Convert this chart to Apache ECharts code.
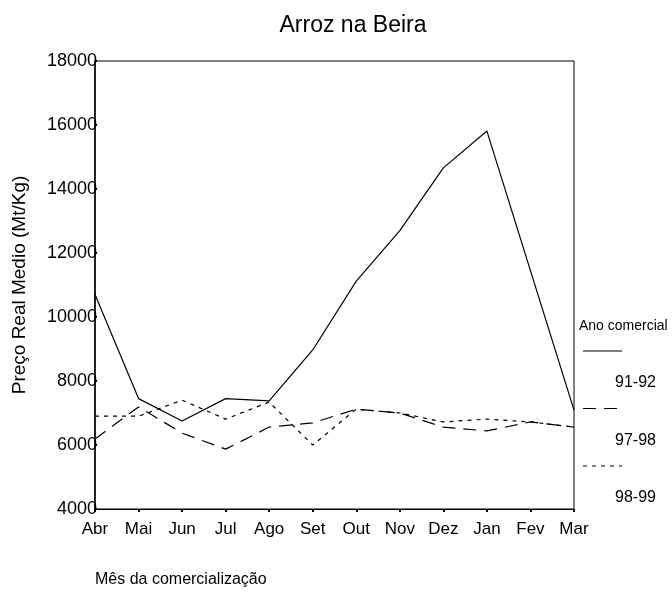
<!DOCTYPE html>
<html>
<head>
<meta charset="utf-8">
<script src="https://cdn.jsdelivr.net/npm/echarts@6/dist/echarts.min.js"></script>
<style>
  html, body { margin: 0; padding: 0; background: #fff; }
  #chart { width: 672px; height: 599px; }
</style>
</head>
<body>
<div id="chart"></div>
<script>
// meses da comercializacao
var months = ['Abr', 'Mai', 'Jun', 'Jul', 'Ago', 'Set', 'Out', 'Nov', 'Dez', 'Jan', 'Fev', 'Mar'];
var seriesNames = ['91-92', '97-98', '98-99'];

// preco real medio (Mt/Kg)
var ano9192 = [10700, 7450, 6750, 7450, 7380, 8970, 11120, 12700, 14660, 15810, 11450, 7090];
var ano9798 = [6190, 7190, 6370, 5870, 6560, 6690, 7120, 7000, 6560, 6440, 6720, 6560];
var ano9899 = [6900, 6900, 7400, 6810, 7340, 6000, 7120, 7000, 6720, 6810, 6720, 6560];

var dashes = ['solid', [13, 8], [4, 5]];
var fontFam = 'Liberation Sans, Arial, sans-serif';

var chart = echarts.init(document.getElementById('chart'));

function makeSeries(name, data, dash) {
    return {
        name: name,
        type: 'line',
        data: data,
        symbol: 'none',
        animation: false,
        lineStyle: { color: '#000', width: 1.2, type: dash }
    };
}

// legenda desenhada à mão (linha em cima, texto embaixo)
var legendGraphics = [{
    type: 'text', left: 579, top: 319,
    style: { text: 'Ano comercial', fill: '#000', font: '14px ' + fontFam }
}];
seriesNames.forEach(function (nm, i) {
    var y = 351 + i * 57.5;
    legendGraphics.push({
        type: 'line',
        shape: { x1: 583, y1: y, x2: 622, y2: y },
        style: { stroke: '#000', lineWidth: 1.2, lineDash: dashes[i] === 'solid' ? null : dashes[i] }
    });
    legendGraphics.push({
        type: 'text', left: 615, top: y + 24,
        style: { text: nm, fill: '#000', font: '16px ' + fontFam }
    });
});

var option = {
    backgroundColor: '#fff',
    title: {
        text: 'Arroz na Beira',
        left: 348,
        textAlign: 'center',
        top: 9,
        textStyle: { color: '#000', fontSize: 23, fontWeight: 'normal', fontFamily: fontFam }
    },
    grid: {
        left: 95, right: 98, top: 61, bottom: 90,
        show: true, borderColor: '#000', borderWidth: 1, backgroundColor: 'transparent'
    },
    xAxis: {
        type: 'category',
        data: months,
        boundaryGap: false,
        name: 'Mês da comercialização',
        nameLocation: 'start',
        nameGap: 0,
        nameTextStyle: {
            color: '#000', fontSize: 16, fontFamily: fontFam,
            align: 'left', verticalAlign: 'top', padding: [63, 0, 0, 0]
        },
        axisLine: { lineStyle: { color: '#000', width: 1 } },
        axisTick: { show: true, length: 3, lineStyle: { color: '#000', width: 2 } },
        axisLabel: { color: '#000', fontSize: 17, fontFamily: fontFam, margin: 12 },
        splitLine: { show: false }
    },
    yAxis: {
        type: 'value',
        min: 4000,
        max: 18000,
        interval: 2000,
        name: 'Preço Real Medio (Mt/Kg)',
        nameLocation: 'middle',
        nameGap: 66,
        nameTextStyle: { color: '#000', fontSize: 19, fontFamily: fontFam },
        axisLine: { show: true, lineStyle: { color: '#000', width: 1.5 } },
        axisTick: { show: true, inside: true, length: 2, lineStyle: { color: '#000', width: 2 } },
        axisLabel: {
            color: '#000', fontSize: 18, fontFamily: fontFam, margin: -2,
            formatter: function (v) { return String(v); }
        },
        splitLine: { show: false }
    },
    graphic: legendGraphics,
    series: [
        makeSeries(seriesNames[0], ano9192, dashes[0]),
        makeSeries(seriesNames[1], ano9798, dashes[1]),
        makeSeries(seriesNames[2], ano9899, dashes[2])
    ]
};

chart.setOption(option);
</script>
</body>
</html>
